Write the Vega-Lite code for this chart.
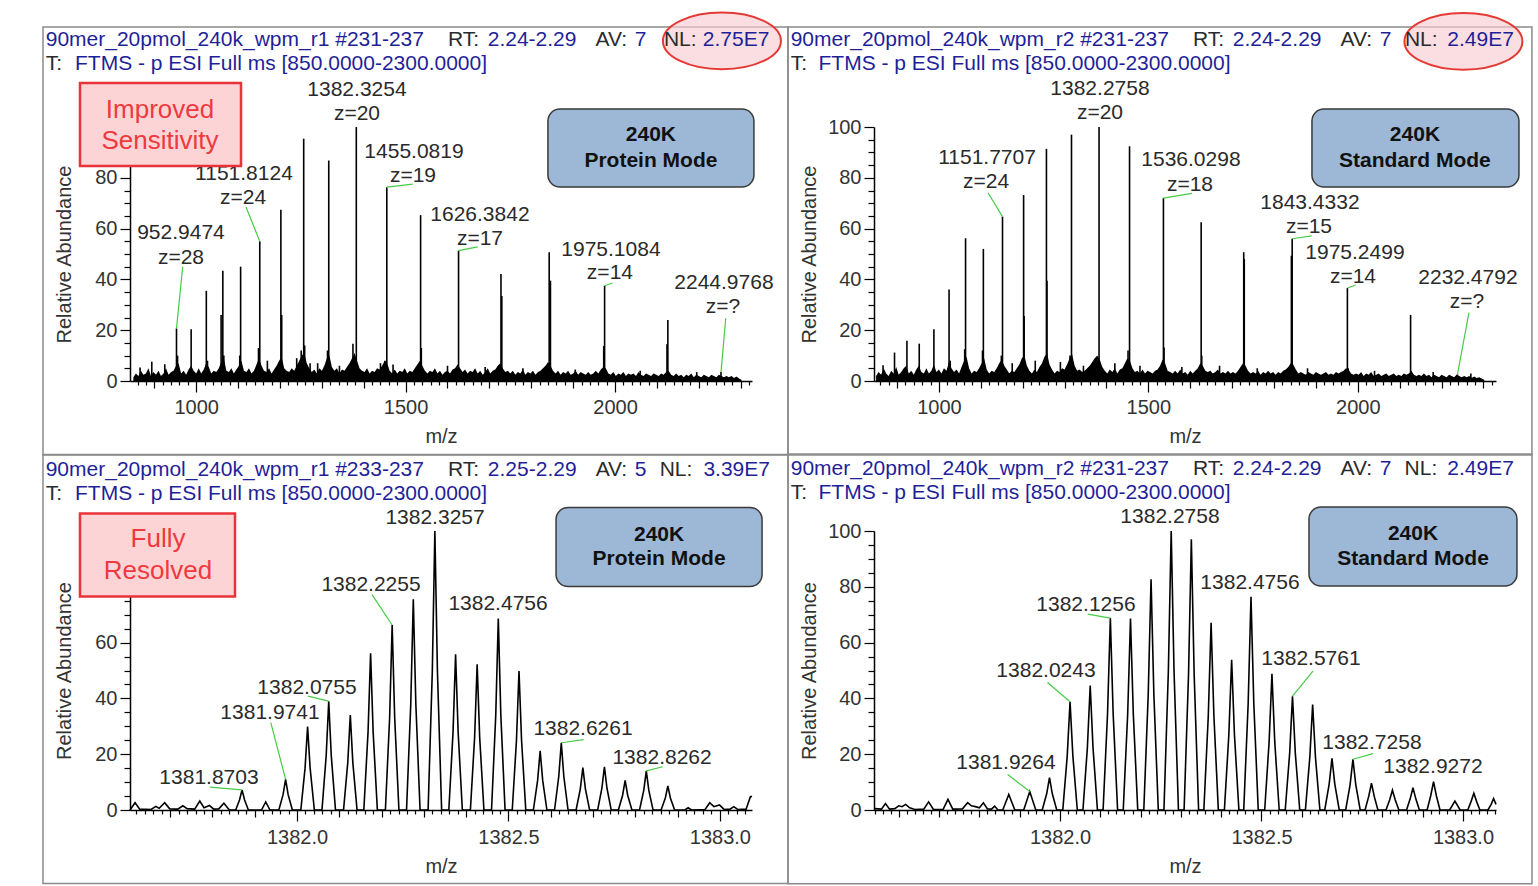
{
"$schema": "https://vega.github.io/schema/vega-lite/v6.json",
"autosize": {"type": "none"},
"padding": {"left": 130, "top": 127, "right": 1408, "bottom": 759},
"background": "white",
"config": {
  "font": "Liberation Sans",
  "view": {"stroke": null},
  "axis": {"domainColor": "#000", "domainWidth": 1.5, "tickColor": "#000", "tickWidth": 1.2, "labelColor": "#333", "labelFontSize": 20, "titleFontSize": 20, "titleFontWeight": "normal", "titleColor": "#333", "grid": false, "labelOverlap": false, "labelFlush": false, "labelBound": false}
},
"columns": 2,
"spacing": {"row": 150, "column": 122},
"bounds": "flush",
"concat": [
{
  "width": 622, "height": 254,
  "encoding": {
    "x": {"field": "m", "type": "quantitative", "title": "m/z",
      "scale": {"domain": [842, 2327], "nice": false, "zero": false},
      "axis": {"values": [860,880,900,920,940,960,980,1000,1020,1040,1060,1080,1100,1120,1140,1160,1180,1200,1220,1240,1260,1280,1300,1320,1340,1360,1380,1400,1420,1440,1460,1480,1500,1520,1540,1560,1580,1600,1620,1640,1660,1680,1700,1720,1740,1760,1780,1800,1820,1840,1860,1880,1900,1920,1940,1960,1980,2000,2020,2040,2060,2080,2100,2120,2140,2160,2180,2200,2220,2240,2260,2280,2300,2320],
        "labelExpr": "datum.value % 500 === 0 ? format(datum.value, 'd') : ''",
        "tickSize": {"condition": [{"test": "datum.value % 500 === 0", "value": 11}, {"test": "datum.value % 100 === 0", "value": 7}], "value": 4},
        "labelPadding": 5, "titlePadding": 9}},
    "y": {"field": "i", "type": "quantitative", "title": "Relative Abundance",
      "scale": {"domain": [0, 100], "nice": false, "zero": false},
      "axis": {"values": [0,5,10,15,20,25,30,35,40,45,50,55,60,65,70,75,80,85,90,95,100],
        "labelExpr": "datum.value % 20 === 0 && datum.value < 100 ? format(datum.value, 'd') : ''",
        "tickSize": {"condition": {"test": "datum.value % 20 === 0", "value": 10}, "value": 6},
        "labelPadding": 3, "titlePadding": 20}}
  },
  "layer": [
    {"data": {"values": [{"m": 634.3, "i": 139.4, "m2": 2412.8, "i2": -29.1}]},
     "mark": {"type": "rect", "fill": null, "stroke": "#8a8a8a", "strokeWidth": 1.5},
     "encoding": {"x2": {"field": "m2"}, "y2": {"field": "i2"}}},
    {"data": {"values": [
{"m":850,"i":1.5},{"m":856,"i":3},{"m":862,"i":2},{"m":868,"i":4},{"m":874,"i":2.5},{"m":880,"i":3},{"m":886,"i":5},{"m":892,"i":2},{"m":898,"i":3.5},{"m":904,"i":2.5},
{"m":910,"i":4},{"m":916,"i":2},{"m":922,"i":3},{"m":928,"i":5},{"m":934,"i":2.5},{"m":940,"i":3.5},{"m":946,"i":4},{"m":952,"i":6},{"m":958,"i":7},{"m":964,"i":3},
{"m":970,"i":4},{"m":976,"i":2.5},{"m":982,"i":4.5},{"m":988,"i":6},{"m":994,"i":4},{"m":1000,"i":3},{"m":1006,"i":5},{"m":1012,"i":3},{"m":1018,"i":4.5},{"m":1024,"i":7},
{"m":1030,"i":5.5},{"m":1036,"i":3},{"m":1042,"i":4},{"m":1048,"i":3.5},{"m":1054,"i":5},{"m":1060,"i":7.5},{"m":1066,"i":9},{"m":1072,"i":4},{"m":1078,"i":3.5},{"m":1084,"i":5},
{"m":1090,"i":3},{"m":1096,"i":4.5},{"m":1102,"i":6},{"m":1108,"i":8},{"m":1114,"i":4},{"m":1120,"i":3.5},{"m":1126,"i":5},{"m":1132,"i":3},{"m":1138,"i":4},{"m":1144,"i":6.5},
{"m":1150,"i":9},{"m":1156,"i":6},{"m":1162,"i":4},{"m":1168,"i":3.5},{"m":1174,"i":5},{"m":1180,"i":3},{"m":1186,"i":4.5},{"m":1192,"i":6},{"m":1198,"i":8},{"m":1204,"i":9.5},
{"m":1210,"i":5},{"m":1216,"i":4},{"m":1222,"i":3.5},{"m":1228,"i":5},{"m":1234,"i":4},{"m":1240,"i":6},{"m":1246,"i":8},{"m":1252,"i":10},{"m":1258,"i":11},{"m":1264,"i":7},
{"m":1270,"i":5},{"m":1276,"i":3.5},{"m":1282,"i":4.5},{"m":1288,"i":3},{"m":1294,"i":5},{"m":1300,"i":4},{"m":1306,"i":6},{"m":1312,"i":9},{"m":1318,"i":10},{"m":1324,"i":5.5},
{"m":1330,"i":4},{"m":1336,"i":5},{"m":1342,"i":3},{"m":1348,"i":4.5},{"m":1354,"i":4},{"m":1360,"i":5.5},{"m":1366,"i":7},{"m":1372,"i":9},{"m":1378,"i":11},{"m":1384,"i":8},
{"m":1390,"i":5},{"m":1396,"i":4},{"m":1402,"i":3.5},{"m":1408,"i":5},{"m":1414,"i":3},{"m":1420,"i":4},{"m":1426,"i":3.5},{"m":1432,"i":5},{"m":1438,"i":4.5},{"m":1444,"i":6},
{"m":1450,"i":8},{"m":1456,"i":7},{"m":1462,"i":4},{"m":1468,"i":3},{"m":1474,"i":4.5},{"m":1480,"i":3},{"m":1486,"i":4},{"m":1492,"i":3.5},{"m":1498,"i":5},{"m":1504,"i":3},
{"m":1510,"i":4},{"m":1516,"i":3.5},{"m":1522,"i":5},{"m":1528,"i":6.5},{"m":1534,"i":8},{"m":1540,"i":6},{"m":1546,"i":4},{"m":1552,"i":3},{"m":1558,"i":4},{"m":1564,"i":3.5},
{"m":1570,"i":5},{"m":1576,"i":3},{"m":1582,"i":4},{"m":1588,"i":2.5},{"m":1594,"i":3.5},{"m":1600,"i":4},{"m":1606,"i":3},{"m":1612,"i":4.5},{"m":1618,"i":5},{"m":1624,"i":6.5},
{"m":1630,"i":5},{"m":1636,"i":3.5},{"m":1642,"i":4.5},{"m":1648,"i":3},{"m":1654,"i":4},{"m":1660,"i":3.5},{"m":1666,"i":5},{"m":1672,"i":3},{"m":1678,"i":4},{"m":1684,"i":2.5},
{"m":1690,"i":3.5},{"m":1696,"i":5},{"m":1702,"i":3},{"m":1708,"i":4},{"m":1714,"i":4.5},{"m":1720,"i":6},{"m":1726,"i":7},{"m":1732,"i":5},{"m":1738,"i":3.5},{"m":1744,"i":4},
{"m":1750,"i":3},{"m":1756,"i":4},{"m":1762,"i":2.5},{"m":1768,"i":3.5},{"m":1774,"i":3},{"m":1780,"i":4.5},{"m":1786,"i":2.5},{"m":1792,"i":3.5},{"m":1798,"i":3},{"m":1804,"i":4},
{"m":1810,"i":2.5},{"m":1816,"i":3.5},{"m":1822,"i":4},{"m":1828,"i":5},{"m":1834,"i":6},{"m":1840,"i":7.5},{"m":1846,"i":6},{"m":1852,"i":4},{"m":1858,"i":3},{"m":1864,"i":4},
{"m":1870,"i":2.5},{"m":1876,"i":3.5},{"m":1882,"i":3},{"m":1888,"i":4},{"m":1894,"i":2.5},{"m":1900,"i":3},{"m":1906,"i":4},{"m":1912,"i":2.5},{"m":1918,"i":3.5},{"m":1924,"i":3},
{"m":1930,"i":2.5},{"m":1936,"i":3.5},{"m":1942,"i":2.5},{"m":1948,"i":3},{"m":1954,"i":4},{"m":1960,"i":3},{"m":1966,"i":4.5},{"m":1972,"i":5.5},{"m":1978,"i":5},{"m":1984,"i":3},
{"m":1990,"i":2.5},{"m":1996,"i":3.5},{"m":2002,"i":2},{"m":2008,"i":3},{"m":2014,"i":2.5},{"m":2020,"i":3.5},{"m":2026,"i":2},{"m":2032,"i":3},{"m":2038,"i":2.5},{"m":2044,"i":3},
{"m":2050,"i":2},{"m":2056,"i":3.5},{"m":2062,"i":2.5},{"m":2068,"i":2},{"m":2074,"i":3},{"m":2080,"i":2.5},{"m":2086,"i":2},{"m":2092,"i":3},{"m":2098,"i":2.5},{"m":2104,"i":2},
{"m":2110,"i":3},{"m":2116,"i":2.5},{"m":2122,"i":3.5},{"m":2128,"i":4},{"m":2134,"i":2.5},{"m":2140,"i":2},{"m":2146,"i":3},{"m":2152,"i":2},{"m":2158,"i":2.5},{"m":2164,"i":1.5},
{"m":2170,"i":2.5},{"m":2176,"i":2},{"m":2182,"i":3},{"m":2188,"i":1.5},{"m":2194,"i":2.5},{"m":2200,"i":2},{"m":2206,"i":1.5},{"m":2212,"i":2.5},{"m":2218,"i":2},{"m":2224,"i":1.5},
{"m":2230,"i":2.5},{"m":2236,"i":2},{"m":2242,"i":1.5},{"m":2248,"i":2.5},{"m":2254,"i":2},{"m":2260,"i":1.5},{"m":2266,"i":2},{"m":2272,"i":1.5},{"m":2278,"i":2},{"m":2284,"i":1.2},
{"m":2290,"i":1.8},{"m":2296,"i":1},{"m":2302,"i":0.5}]},
     "mark": {"type": "area", "color": "black"}, "encoding": {}},
    {"data": {"values": [
{"m":866,"i":5.3},{"m":894,"i":7.6},{"m":925,"i":6.6},{"m":953,"i":20.7},{"m":955.5,"i":10},{"m":988,"i":20.4},{"m":1024.2,"i":35.5},{"m":1027,"i":8},{"m":1059.5,"i":26},{"m":1063.6,"i":43.4},{"m":1066,"i":10},{"m":1104,"i":10},{"m":1106.1,"i":45},{"m":1148.8,"i":13},{"m":1151.8,"i":55},{"m":1170,"i":8},{"m":1202.2,"i":67.4},{"m":1204.2,"i":26},{"m":1240,"i":9},{"m":1250.7,"i":12},{"m":1256.7,"i":95.4},{"m":1259,"i":14},{"m":1272,"i":7},{"m":1290,"i":7},{"m":1313.5,"i":12},{"m":1316.5,"i":86.8},{"m":1342,"i":6},{"m":1374.3,"i":14.7},{"m":1382.3,"i":100},{"m":1440,"i":7},{"m":1451,"i":8},{"m":1455.1,"i":76.3},{"m":1470,"i":6.5},{"m":1535.8,"i":65.3},{"m":1537.5,"i":13},{"m":1600,"i":6},{"m":1626.4,"i":51.3},{"m":1690,"i":5.5},{"m":1727.7,"i":42.1},{"m":1729.7,"i":33.5},{"m":1780,"i":5},{"m":1842.8,"i":50.7},{"m":1845.8,"i":39.5},{"m":1905,"i":4.5},{"m":1973,"i":13.8},{"m":1975.1,"i":37.5},{"m":2060,"i":4},{"m":2124,"i":14.5},{"m":2126.1,"i":24},{"m":2195,"i":3.5},{"m":2253,"i":3.5}]},
     "mark": {"type": "rule", "color": "black", "strokeWidth": 1.6}, "encoding": {"y2": {"datum": 0}}},
    {"data": {"values": [{"m":967.8,"i":45,"m2":953,"i2":20.7},{"m":1118.9,"i":68.5,"m2":1151.8,"i2":55},{"m":1455.1,"i":76.3,"m2":1517,"i2":77.5},{"m":1626.4,"i":51.3,"m2":1672,"i2":52.8},{"m":1975.1,"i":37.5,"m2":1994,"i2":38.6},{"m":2264.3,"i":24.7,"m2":2253,"i2":3.5}]},
     "mark": {"type": "rule", "color": "#44cc44", "strokeWidth": 1.2}, "encoding": {"x2": {"field": "m2"}, "y2": {"field": "i2"}}},
    {"data": {"values": [{"m":1383.9,"i":114.6,"t":"1382.3254"},{"m":1383.9,"i":105.1,"t":"z=20"},{"m":1114.1,"i":81.5,"t":"1151.8124"},{"m":1111.8,"i":72,"t":"z=24"},{"m":963.7,"i":58.3,"t":"952.9474"},{"m":963.7,"i":48.4,"t":"z=28"},{"m":1520,"i":90.2,"t":"1455.0819"},{"m":1517.6,"i":80.7,"t":"z=19"},{"m":1677.5,"i":65.4,"t":"1626.3842"},{"m":1677.5,"i":55.9,"t":"z=17"},{"m":1990.2,"i":51.6,"t":"1975.1084"},{"m":1987.8,"i":42.5,"t":"z=14"},{"m":2260,"i":38.6,"t":"2244.9768"},{"m":2257.6,"i":29.1,"t":"z=?"}]},
     "mark": {"type": "text", "fontSize": 21, "color": "#2a2a2a", "baseline": "middle"}, "encoding": {"text": {"field": "t"}}},
    {"data": {"values": [{"m": 2255.2, "i": 133.9}]},
     "mark": {"type": "point", "shape": "M-1,0 C-1,-0.265 -0.5523,-0.48 0,-0.48 C0.5523,-0.48 1,-0.265 1,0 C1,0.265 0.5523,0.48 0,0.48 C-0.5523,0.48 -1,0.265 -1,0 Z", "size": 13924, "filled": true, "fill": "#f8cdd1", "fillOpacity": 0.65, "stroke": "#e53935", "strokeWidth": 2, "opacity": 1}},
    {"data": {"values": [{"m":640.8,"i":134.25,"t":"90mer_20pmol_240k_wpm_r1 #231-237","k":"val"},{"m":1601.1,"i":134.25,"t":"RT:","k":"key"},{"m":1696.1,"i":134.25,"t":"2.24-2.29","k":"val"},{"m":1953.5,"i":134.25,"t":"AV:","k":"key"},{"m":2047,"i":134.25,"t":"7","k":"val"},{"m":2116.8,"i":134.25,"t":"NL:","k":"key"},{"m":2209.5,"i":134.25,"t":"2.75E7","k":"val"},{"m":640.8,"i":125,"t":"T:","k":"key"},{"m":710.7,"i":125,"t":"FTMS - p ESI Full ms [850.0000-2300.0000]","k":"val"}]},
     "mark": {"type": "text", "fontSize": 21, "align": "left", "baseline": "middle"},
     "encoding": {"text": {"field": "t"}, "color": {"field": "k", "type": "nominal", "scale": {"domain": ["key", "val"], "range": ["#2b2b2b", "#1f1f99"]}, "legend": null}}},
    {"data": {"values": [{"m": 722.6, "i": 117.3, "m2": 1107, "i2": 84.6}]},
     "mark": {"type": "rect", "fill": "#fcd4d6", "stroke": "#e8333a", "strokeWidth": 2.5},
     "encoding": {"x2": {"field": "m2"}, "y2": {"field": "i2"}}},
    {"data": {"values": [{"m": 913.6, "i": 106.7, "t": "Improved"}, {"m": 913.6, "i": 94.5, "t": "Sensitivity"}]},
     "mark": {"type": "text", "fontSize": 26, "color": "#ee3a3f", "baseline": "middle"}, "encoding": {"text": {"field": "t"}}},
    {"data": {"values": [{"m": 1839.8, "i": 107.1, "m2": 2331.6, "i2": 76.4}]},
     "mark": {"type": "rect", "fill": "#9db8d6", "stroke": "#3a3a3a", "strokeWidth": 1.5, "cornerRadius": 12},
     "encoding": {"x2": {"field": "m2"}, "y2": {"field": "i2"}}},
    {"data": {"values": [{"m": 2085.7, "i": 96.9, "t": "240K"}, {"m": 2085.7, "i": 86.6, "t": "Protein Mode"}]},
     "mark": {"type": "text", "fontSize": 21, "fontWeight": "bold", "color": "#111", "baseline": "middle"}, "encoding": {"text": {"field": "t"}}}
  ]
},
{
  "width": 622, "height": 254,
  "encoding": {
    "x": {"field": "m", "type": "quantitative", "title": "m/z",
      "scale": {"domain": [845, 2330], "nice": false, "zero": false},
      "axis": {"values": [860,880,900,920,940,960,980,1000,1020,1040,1060,1080,1100,1120,1140,1160,1180,1200,1220,1240,1260,1280,1300,1320,1340,1360,1380,1400,1420,1440,1460,1480,1500,1520,1540,1560,1580,1600,1620,1640,1660,1680,1700,1720,1740,1760,1780,1800,1820,1840,1860,1880,1900,1920,1940,1960,1980,2000,2020,2040,2060,2080,2100,2120,2140,2160,2180,2200,2220,2240,2260,2280,2300,2320],
        "labelExpr": "datum.value % 500 === 0 ? format(datum.value, 'd') : ''",
        "tickSize": {"condition": [{"test": "datum.value % 500 === 0", "value": 11}, {"test": "datum.value % 100 === 0", "value": 7}], "value": 4},
        "labelPadding": 5, "titlePadding": 9}},
    "y": {"field": "i", "type": "quantitative", "title": "Relative Abundance",
      "scale": {"domain": [0, 100], "nice": false, "zero": false},
      "axis": {"values": [0,5,10,15,20,25,30,35,40,45,50,55,60,65,70,75,80,85,90,95,100],
        "labelExpr": "datum.value % 20 === 0 ? format(datum.value, 'd') : ''",
        "tickSize": {"condition": {"test": "datum.value % 20 === 0", "value": 10}, "value": 6},
        "labelPadding": 3, "titlePadding": 8}}
  },
  "layer": [
    {"data": {"values": [{"m": 639.7, "i": 139.4, "m2": 2415.8, "i2": -29.1}]},
     "mark": {"type": "rect", "fill": null, "stroke": "#8a8a8a", "strokeWidth": 1.5},
     "encoding": {"x2": {"field": "m2"}, "y2": {"field": "i2"}}},
    {"data": {"values": [
{"m":850,"i":2},{"m":856,"i":3.5},{"m":862,"i":2.5},{"m":868,"i":5},{"m":874,"i":3},{"m":880,"i":2},{"m":886,"i":4},{"m":892,"i":3},{"m":898,"i":5.5},{"m":904,"i":2.5},
{"m":910,"i":3.5},{"m":916,"i":5},{"m":922,"i":6},{"m":928,"i":3},{"m":934,"i":4},{"m":940,"i":2.5},{"m":946,"i":4.5},{"m":952,"i":6},{"m":958,"i":3.5},{"m":964,"i":3},
{"m":970,"i":5},{"m":976,"i":3},{"m":982,"i":4},{"m":988,"i":6.5},{"m":994,"i":3.5},{"m":1000,"i":4.5},{"m":1006,"i":3},{"m":1012,"i":5},{"m":1018,"i":4},{"m":1024,"i":7.5},
{"m":1030,"i":5},{"m":1036,"i":3.5},{"m":1042,"i":4.5},{"m":1048,"i":3},{"m":1054,"i":5.5},{"m":1060,"i":8},{"m":1066,"i":9.5},{"m":1072,"i":5},{"m":1078,"i":3},{"m":1084,"i":4},
{"m":1090,"i":3.5},{"m":1096,"i":5},{"m":1102,"i":7},{"m":1108,"i":9},{"m":1114,"i":4.5},{"m":1120,"i":3},{"m":1126,"i":4},{"m":1132,"i":3.5},{"m":1138,"i":5},{"m":1144,"i":7},
{"m":1150,"i":8.5},{"m":1156,"i":6},{"m":1162,"i":4.5},{"m":1168,"i":3},{"m":1174,"i":4},{"m":1180,"i":3.5},{"m":1186,"i":5},{"m":1192,"i":6.5},{"m":1198,"i":9},{"m":1204,"i":10},
{"m":1210,"i":6},{"m":1216,"i":4},{"m":1222,"i":3},{"m":1228,"i":4.5},{"m":1234,"i":3.5},{"m":1240,"i":5.5},{"m":1246,"i":7},{"m":1252,"i":9.5},{"m":1258,"i":11},{"m":1264,"i":6.5},
{"m":1270,"i":4.5},{"m":1276,"i":3},{"m":1282,"i":4},{"m":1288,"i":3.5},{"m":1294,"i":5},{"m":1300,"i":4.5},{"m":1306,"i":6.5},{"m":1312,"i":9},{"m":1318,"i":10.5},{"m":1324,"i":6},
{"m":1330,"i":4},{"m":1336,"i":4.5},{"m":1342,"i":3.5},{"m":1348,"i":4},{"m":1354,"i":5},{"m":1360,"i":6},{"m":1366,"i":7.5},{"m":1372,"i":9},{"m":1378,"i":10},{"m":1384,"i":8.5},
{"m":1390,"i":5.5},{"m":1396,"i":4},{"m":1402,"i":3},{"m":1408,"i":4.5},{"m":1414,"i":3.5},{"m":1420,"i":5},{"m":1426,"i":3},{"m":1432,"i":4.5},{"m":1438,"i":5},{"m":1444,"i":7},
{"m":1450,"i":9},{"m":1456,"i":8},{"m":1462,"i":5},{"m":1468,"i":3.5},{"m":1474,"i":4},{"m":1480,"i":3},{"m":1486,"i":4.5},{"m":1492,"i":3},{"m":1498,"i":4},{"m":1504,"i":3.5},
{"m":1510,"i":3},{"m":1516,"i":4},{"m":1522,"i":4.5},{"m":1528,"i":6},{"m":1534,"i":8.5},{"m":1540,"i":7},{"m":1546,"i":4},{"m":1552,"i":3.5},{"m":1558,"i":3},{"m":1564,"i":4},
{"m":1570,"i":3},{"m":1576,"i":4.5},{"m":1582,"i":3},{"m":1588,"i":3.5},{"m":1594,"i":2.5},{"m":1600,"i":4},{"m":1606,"i":3},{"m":1612,"i":4},{"m":1618,"i":5},{"m":1624,"i":7},
{"m":1630,"i":6},{"m":1636,"i":4},{"m":1642,"i":3.5},{"m":1648,"i":4},{"m":1654,"i":3},{"m":1660,"i":3.5},{"m":1666,"i":4.5},{"m":1672,"i":3},{"m":1678,"i":3.5},{"m":1684,"i":3},
{"m":1690,"i":4},{"m":1696,"i":3},{"m":1702,"i":3.5},{"m":1708,"i":3},{"m":1714,"i":4},{"m":1720,"i":5.5},{"m":1726,"i":7},{"m":1732,"i":6},{"m":1738,"i":4},{"m":1744,"i":3},
{"m":1750,"i":3.5},{"m":1756,"i":3},{"m":1762,"i":4},{"m":1768,"i":2.5},{"m":1774,"i":3.5},{"m":1780,"i":3},{"m":1786,"i":4},{"m":1792,"i":3},{"m":1798,"i":3.5},{"m":1804,"i":2.5},
{"m":1810,"i":3.5},{"m":1816,"i":3},{"m":1822,"i":4},{"m":1828,"i":4.5},{"m":1834,"i":5.5},{"m":1840,"i":7},{"m":1846,"i":6.5},{"m":1852,"i":4.5},{"m":1858,"i":3},{"m":1864,"i":3.5},
{"m":1870,"i":3},{"m":1876,"i":2.5},{"m":1882,"i":3.5},{"m":1888,"i":3},{"m":1894,"i":2.5},{"m":1900,"i":3.5},{"m":1906,"i":3},{"m":1912,"i":2.5},{"m":1918,"i":3},{"m":1924,"i":3.5},
{"m":1930,"i":2.5},{"m":1936,"i":3},{"m":1942,"i":2.5},{"m":1948,"i":3.5},{"m":1954,"i":3},{"m":1960,"i":3.5},{"m":1966,"i":4},{"m":1972,"i":5},{"m":1978,"i":4.5},{"m":1984,"i":3},
{"m":1990,"i":2.5},{"m":1996,"i":3},{"m":2002,"i":2.5},{"m":2008,"i":3.5},{"m":2014,"i":2},{"m":2020,"i":3},{"m":2026,"i":2.5},{"m":2032,"i":3.5},{"m":2038,"i":2},{"m":2044,"i":2.5},
{"m":2050,"i":3},{"m":2056,"i":2},{"m":2062,"i":2.5},{"m":2068,"i":3},{"m":2074,"i":2},{"m":2080,"i":2.5},{"m":2086,"i":3},{"m":2092,"i":2},{"m":2098,"i":2.5},{"m":2104,"i":2},
{"m":2110,"i":3},{"m":2116,"i":2.5},{"m":2122,"i":3},{"m":2128,"i":4},{"m":2134,"i":2.5},{"m":2140,"i":2},{"m":2146,"i":2.5},{"m":2152,"i":2},{"m":2158,"i":3},{"m":2164,"i":2},
{"m":2170,"i":2.5},{"m":2176,"i":1.5},{"m":2182,"i":2.5},{"m":2188,"i":2},{"m":2194,"i":1.5},{"m":2200,"i":2.5},{"m":2206,"i":2},{"m":2212,"i":1.5},{"m":2218,"i":2.5},{"m":2224,"i":2},
{"m":2230,"i":1.5},{"m":2236,"i":2.5},{"m":2242,"i":2},{"m":2248,"i":1.5},{"m":2254,"i":2},{"m":2260,"i":1.5},{"m":2266,"i":2},{"m":2272,"i":1.2},{"m":2278,"i":1.8},{"m":2284,"i":1.2},
{"m":2290,"i":1.5},{"m":2296,"i":1},{"m":2302,"i":0.5}]},
     "mark": {"type": "area", "color": "black"}, "encoding": {}},
    {"data": {"values": [
{"m":866.6,"i":6.2},{"m":894,"i":11.2},{"m":923.6,"i":15.8},{"m":953,"i":14.7},{"m":988,"i":20.4},{"m":1024.2,"i":36},{"m":1027,"i":8},{"m":1061.5,"i":12.5},{"m":1063.6,"i":56.2},{"m":1104,"i":12},{"m":1106.1,"i":52},{"m":1149,"i":10},{"m":1151.8,"i":64.7},{"m":1175,"i":7},{"m":1202.2,"i":73.2},{"m":1203.5,"i":25.6},{"m":1230,"i":8},{"m":1256.7,"i":91.4},{"m":1258,"i":39.5},{"m":1290,"i":7.5},{"m":1313,"i":10},{"m":1316.5,"i":97},{"m":1345,"i":6},{"m":1379,"i":8},{"m":1382.3,"i":100},{"m":1420,"i":7},{"m":1451.5,"i":12},{"m":1455.1,"i":92.4},{"m":1480,"i":6},{"m":1536,"i":72},{"m":1537.5,"i":13.2},{"m":1580,"i":5.5},{"m":1626.1,"i":62.5},{"m":1627.5,"i":10},{"m":1670,"i":6},{"m":1727.7,"i":50.7},{"m":1729,"i":48},{"m":1760,"i":5},{"m":1841.5,"i":49.3},{"m":1843.4,"i":56},{"m":1880,"i":5},{"m":1975.2,"i":36.6},{"m":1977,"i":5},{"m":2040,"i":4},{"m":2126.1,"i":26},{"m":2180,"i":3.5},{"m":2238,"i":2.6},{"m":2270,"i":3}]},
     "mark": {"type": "rule", "color": "black", "strokeWidth": 1.6}, "encoding": {"y2": {"datum": 0}}},
    {"data": {"values": [{"m":1117.1,"i":74.1,"m2":1151.8,"i2":64.7},{"m":1536,"i":72,"m2":1604,"i2":73.9},{"m":1843.4,"i":56,"m2":1890,"i2":57.1},{"m":1975.2,"i":36.6,"m2":1995,"i2":37.8},{"m":2265.4,"i":26.9,"m2":2238,"i2":2.6}]},
     "mark": {"type": "rule", "color": "#44cc44", "strokeWidth": 1.2}, "encoding": {"x2": {"field": "m2"}, "y2": {"field": "i2"}}},
    {"data": {"values": [{"m":1384.5,"i":115,"t":"1382.2758"},{"m":1384.5,"i":105.5,"t":"z=20"},{"m":1114.8,"i":87.8,"t":"1151.7707"},{"m":1112.4,"i":78.3,"t":"z=24"},{"m":1601.7,"i":87,"t":"1536.0298"},{"m":1599.3,"i":77.2,"t":"z=18"},{"m":1885.8,"i":70.1,"t":"1843.4332"},{"m":1883.4,"i":60.6,"t":"z=15"},{"m":1993.2,"i":50.4,"t":"1975.2499"},{"m":1988.5,"i":40.9,"t":"z=14"},{"m":2263,"i":40.6,"t":"2232.4792"},{"m":2260.6,"i":31.1,"t":"z=?"}]},
     "mark": {"type": "text", "fontSize": 21, "color": "#2a2a2a", "baseline": "middle"}, "encoding": {"text": {"field": "t"}}},
    {"data": {"values": [{"m": 2252.2, "i": 133.7}]},
     "mark": {"type": "point", "shape": "M-1,0 C-1,-0.265 -0.5523,-0.48 0,-0.48 C0.5523,-0.48 1,-0.265 1,0 C1,0.265 0.5523,0.48 0,0.48 C-0.5523,0.48 -1,0.265 -1,0 Z", "size": 13924, "filled": true, "fill": "#f8cdd1", "fillOpacity": 0.65, "stroke": "#e53935", "strokeWidth": 2, "opacity": 1}},
    {"data": {"values": [{"m":646.1,"i":134.25,"t":"90mer_20pmol_240k_wpm_r2 #231-237","k":"val"},{"m":1606.5,"i":134.25,"t":"RT:","k":"key"},{"m":1701.5,"i":134.25,"t":"2.24-2.29","k":"val"},{"m":1958.9,"i":134.25,"t":"AV:","k":"key"},{"m":2052.4,"i":134.25,"t":"7","k":"val"},{"m":2112.6,"i":134.25,"t":"NL:","k":"key"},{"m":2213.8,"i":134.25,"t":"2.49E7","k":"val"},{"m":646.1,"i":125,"t":"T:","k":"key"},{"m":712.5,"i":125,"t":"FTMS - p ESI Full ms [850.0000-2300.0000]","k":"val"}]},
     "mark": {"type": "text", "fontSize": 21, "align": "left", "baseline": "middle"},
     "encoding": {"text": {"field": "t"}, "color": {"field": "k", "type": "nominal", "scale": {"domain": ["key", "val"], "range": ["#2b2b2b", "#1f1f99"]}, "legend": null}}},
    {"data": {"values": [{"m": 1890.6, "i": 107.1, "m2": 2384.8, "i2": 76.4}]},
     "mark": {"type": "rect", "fill": "#9db8d6", "stroke": "#3a3a3a", "strokeWidth": 1.5, "cornerRadius": 12},
     "encoding": {"x2": {"field": "m2"}, "y2": {"field": "i2"}}},
    {"data": {"values": [{"m": 2136.5, "i": 96.9, "t": "240K"}, {"m": 2136.5, "i": 86.6, "t": "Standard Mode"}]},
     "mark": {"type": "text", "fontSize": 21, "fontWeight": "bold", "color": "#111", "baseline": "middle"}, "encoding": {"text": {"field": "t"}}}
  ]
},
{
  "width": 622, "height": 279,
  "encoding": {
    "x": {"field": "m", "type": "quantitative", "title": "m/z",
      "scale": {"domain": [1381.605, 1383.076], "nice": false, "zero": false},
      "axis": {"values": [1381.62,1381.64,1381.66,1381.68,1381.7,1381.72,1381.74,1381.76,1381.78,1381.8,1381.82,1381.84,1381.86,1381.88,1381.9,1381.92,1381.94,1381.96,1381.98,1382,1382.02,1382.04,1382.06,1382.08,1382.1,1382.12,1382.14,1382.16,1382.18,1382.2,1382.22,1382.24,1382.26,1382.28,1382.3,1382.32,1382.34,1382.36,1382.38,1382.4,1382.42,1382.44,1382.46,1382.48,1382.5,1382.52,1382.54,1382.56,1382.58,1382.6,1382.62,1382.64,1382.66,1382.68,1382.7,1382.72,1382.74,1382.76,1382.78,1382.8,1382.82,1382.84,1382.86,1382.88,1382.9,1382.92,1382.94,1382.96,1382.98,1383,1383.02,1383.04,1383.06],
        "labelExpr": "abs(datum.value * 2 - round(datum.value * 2)) < 0.0001 ? format(datum.value, '.1f') : ''",
        "tickSize": {"condition": [{"test": "abs(datum.value * 2 - round(datum.value * 2)) < 0.0001", "value": 11}, {"test": "abs(datum.value * 10 - round(datum.value * 10)) < 0.0001", "value": 7}], "value": 4},
        "labelPadding": 6, "titlePadding": 9}},
    "y": {"field": "i", "type": "quantitative", "title": "Relative Abundance",
      "scale": {"domain": [0, 100], "nice": false, "zero": false},
      "axis": {"values": [0,5,10,15,20,25,30,35,40,45,50,55,60,65,70,75,80,85,90,95,100],
        "labelExpr": "datum.value % 20 === 0 && datum.value < 80 ? format(datum.value, 'd') : ''",
        "tickSize": {"condition": {"test": "datum.value % 20 === 0", "value": 10}, "value": 6},
        "labelPadding": 3, "titlePadding": 20}}
  },
  "layer": [
    {"data": {"values": [{"m": 1381.3992, "i": 127.4, "m2": 1383.1613, "i2": -26.3}]},
     "mark": {"type": "rect", "fill": null, "stroke": "#8a8a8a", "strokeWidth": 1.5},
     "encoding": {"x2": {"field": "m2"}, "y2": {"field": "i2"}}},
    {"data": {"values": [
{"m":1381.605,"i":0},{"m":1381.617,"i":2.6},{"m":1381.628,"i":0.3},{"m":1381.655,"i":0.2},{"m":1381.666,"i":1.3},{"m":1381.674,"i":0.6},{"m":1381.687,"i":2.6},{"m":1381.699,"i":0.4},{"m":1381.718,"i":0.3},{"m":1381.73,"i":1.5},{"m":1381.74,"i":0.5},{"m":1381.758,"i":0.3},{"m":1381.77,"i":3.2},{"m":1381.78,"i":0.8},{"m":1381.793,"i":1.6},{"m":1381.803,"i":0.3},{"m":1381.815,"i":0.4},{"m":1381.827,"i":2.4},{"m":1381.84,"i":0},
{"m":1381.855,"i":0},{"m":1381.864,"i":3.6},{"m":1381.87,"i":7.2},{"m":1381.876,"i":3.6},{"m":1381.885,"i":0},{"m":1381.916,"i":0},{"m":1381.926,"i":2.9},{"m":1381.936,"i":0},
{"m":1381.957,"i":0},{"m":1381.967,"i":5.5},{"m":1381.973,"i":11},{"m":1381.979,"i":5.5},{"m":1381.989,"i":0},
{"m":1382.009,"i":0},{"m":1382.019,"i":15},{"m":1382.025,"i":29.9},{"m":1382.031,"i":15},{"m":1382.041,"i":0},
{"m":1382.059,"i":0},{"m":1382.069,"i":19.5},{"m":1382.075,"i":39},{"m":1382.081,"i":19.5},{"m":1382.091,"i":0},
{"m":1382.11,"i":0},{"m":1382.12,"i":17},{"m":1382.126,"i":34},{"m":1382.132,"i":17},{"m":1382.142,"i":0},
{"m":1382.158,"i":0},{"m":1382.168,"i":28},{"m":1382.174,"i":56.2},{"m":1382.18,"i":28},{"m":1382.19,"i":0},
{"m":1382.209,"i":0},{"m":1382.219,"i":33},{"m":1382.225,"i":66.3},{"m":1382.231,"i":33},{"m":1382.241,"i":0},
{"m":1382.259,"i":0},{"m":1382.269,"i":38},{"m":1382.275,"i":75.5},{"m":1382.281,"i":38},{"m":1382.291,"i":0},
{"m":1382.31,"i":0},{"m":1382.32,"i":50},{"m":1382.326,"i":100},{"m":1382.332,"i":50},{"m":1382.342,"i":0},
{"m":1382.359,"i":0},{"m":1382.369,"i":28},{"m":1382.375,"i":55.8},{"m":1382.381,"i":28},{"m":1382.391,"i":0},
{"m":1382.41,"i":0},{"m":1382.42,"i":26},{"m":1382.426,"i":52.2},{"m":1382.432,"i":26},{"m":1382.442,"i":0},
{"m":1382.46,"i":0},{"m":1382.47,"i":34},{"m":1382.476,"i":68.6},{"m":1382.482,"i":34},{"m":1382.492,"i":0},
{"m":1382.509,"i":0},{"m":1382.519,"i":25},{"m":1382.525,"i":49.8},{"m":1382.531,"i":25},{"m":1382.541,"i":0},
{"m":1382.559,"i":0},{"m":1382.569,"i":10.6},{"m":1382.575,"i":21.2},{"m":1382.581,"i":10.6},{"m":1382.591,"i":0},
{"m":1382.609,"i":0},{"m":1382.619,"i":12},{"m":1382.625,"i":24.1},{"m":1382.631,"i":12},{"m":1382.641,"i":0},
{"m":1382.66,"i":0},{"m":1382.67,"i":7.6},{"m":1382.676,"i":15.2},{"m":1382.682,"i":7.6},{"m":1382.692,"i":0},
{"m":1382.711,"i":0},{"m":1382.721,"i":7.8},{"m":1382.727,"i":15.5},{"m":1382.733,"i":7.8},{"m":1382.743,"i":0},
{"m":1382.76,"i":0},{"m":1382.77,"i":5.3},{"m":1382.776,"i":10.6},{"m":1382.782,"i":5.3},{"m":1382.792,"i":0},
{"m":1382.81,"i":0},{"m":1382.82,"i":7},{"m":1382.826,"i":14},{"m":1382.832,"i":7},{"m":1382.842,"i":0},
{"m":1382.861,"i":0},{"m":1382.871,"i":4.3},{"m":1382.877,"i":8.6},{"m":1382.883,"i":4.3},{"m":1382.893,"i":0},
{"m":1382.917,"i":0},{"m":1382.925,"i":0.8},{"m":1382.933,"i":0},{"m":1382.965,"i":0.2},{"m":1382.976,"i":2.6},{"m":1382.986,"i":1.2},{"m":1382.999,"i":1.8},{"m":1383.01,"i":0.2},{"m":1383.024,"i":0.3},{"m":1383.033,"i":1.2},{"m":1383.042,"i":0.2},{"m":1383.062,"i":0.3},{"m":1383.072,"i":4.7},{"m":1383.076,"i":4.9}]},
     "mark": {"type": "line", "color": "black", "strokeWidth": 1.6}, "encoding": {}},
    {"data": {"values": [{"m":1382.1774,"i":77.2,"m2":1382.225,"i2":66.3},{"m":1382.026,"i":40.8,"m2":1382.075,"i2":39},{"m":1381.938,"i":31.3,"m2":1381.973,"i2":11},{"m":1381.794,"i":8.2,"m2":1381.87,"i2":7.2},{"m":1382.625,"i":24.1,"m2":1382.678,"i2":25.2},{"m":1382.826,"i":14,"m2":1382.865,"i2":15.5}]},
     "mark": {"type": "rule", "color": "#44cc44", "strokeWidth": 1.2}, "encoding": {"x2": {"field": "m2"}, "y2": {"field": "i2"}}},
    {"data": {"values": [{"m":1382.3264,"i":104.8,"t":"1382.3257"},{"m":1382.175,"i":80.5,"t":"1382.2255"},{"m":1382.4754,"i":74,"t":"1382.4756"},{"m":1382.0236,"i":43.9,"t":"1382.0755"},{"m":1381.9361,"i":34.6,"t":"1381.9741"},{"m":1381.7918,"i":11.6,"t":"1381.8703"},{"m":1382.6764,"i":28.9,"t":"1382.6261"},{"m":1382.8633,"i":18.8,"t":"1382.8262"}]},
     "mark": {"type": "text", "fontSize": 21, "color": "#2a2a2a", "baseline": "middle"}, "encoding": {"text": {"field": "t"}}},
    {"data": {"values": [{"m":1381.4056,"i":122,"t":"90mer_20pmol_240k_wpm_r1 #233-237","k":"val"},{"m":1382.3571,"i":122,"t":"RT:","k":"key"},{"m":1382.4513,"i":122,"t":"2.25-2.29","k":"val"},{"m":1382.7062,"i":122,"t":"AV:","k":"key"},{"m":1382.7989,"i":122,"t":"5","k":"val"},{"m":1382.8576,"i":122,"t":"NL:","k":"key"},{"m":1382.9611,"i":122,"t":"3.39E7","k":"val"},{"m":1381.4056,"i":113.4,"t":"T:","k":"key"},{"m":1381.475,"i":113.4,"t":"FTMS - p ESI Full ms [850.0000-2300.0000]","k":"val"}]},
     "mark": {"type": "text", "fontSize": 21, "align": "left", "baseline": "middle"},
     "encoding": {"text": {"field": "t"}, "color": {"field": "k", "type": "nominal", "scale": {"domain": ["key", "val"], "range": ["#2b2b2b", "#1f1f99"]}, "legend": null}}},
    {"data": {"values": [{"m": 1381.4867, "i": 106.3, "m2": 1381.8533, "i2": 76.5}]},
     "mark": {"type": "rect", "fill": "#fcd4d6", "stroke": "#e8333a", "strokeWidth": 2.5},
     "encoding": {"x2": {"field": "m2"}, "y2": {"field": "i2"}}},
    {"data": {"values": [{"m": 1381.6712, "i": 97, "t": "Fully"}, {"m": 1381.6712, "i": 85.5, "t": "Resolved"}]},
     "mark": {"type": "text", "fontSize": 26, "color": "#ee3a3f", "baseline": "middle"}, "encoding": {"text": {"field": "t"}}},
    {"data": {"values": [{"m": 1382.6126, "i": 108.4, "m2": 1383.0998, "i2": 80.1}]},
     "mark": {"type": "rect", "fill": "#9db8d6", "stroke": "#3a3a3a", "strokeWidth": 1.5, "cornerRadius": 12},
     "encoding": {"x2": {"field": "m2"}, "y2": {"field": "i2"}}},
    {"data": {"values": [{"m": 1382.8562, "i": 98.7, "t": "240K"}, {"m": 1382.8562, "i": 89.8, "t": "Protein Mode"}]},
     "mark": {"type": "text", "fontSize": 21, "fontWeight": "bold", "color": "#111", "baseline": "middle"}, "encoding": {"text": {"field": "t"}}}
  ]
},
{
  "width": 622, "height": 279,
  "encoding": {
    "x": {"field": "m", "type": "quantitative", "title": "m/z",
      "scale": {"domain": [1381.5385, 1383.082], "nice": false, "zero": false},
      "axis": {"values": [1381.54,1381.56,1381.58,1381.6,1381.62,1381.64,1381.66,1381.68,1381.7,1381.72,1381.74,1381.76,1381.78,1381.8,1381.82,1381.84,1381.86,1381.88,1381.9,1381.92,1381.94,1381.96,1381.98,1382,1382.02,1382.04,1382.06,1382.08,1382.1,1382.12,1382.14,1382.16,1382.18,1382.2,1382.22,1382.24,1382.26,1382.28,1382.3,1382.32,1382.34,1382.36,1382.38,1382.4,1382.42,1382.44,1382.46,1382.48,1382.5,1382.52,1382.54,1382.56,1382.58,1382.6,1382.62,1382.64,1382.66,1382.68,1382.7,1382.72,1382.74,1382.76,1382.78,1382.8,1382.82,1382.84,1382.86,1382.88,1382.9,1382.92,1382.94,1382.96,1382.98,1383,1383.02,1383.04,1383.06,1383.08],
        "labelExpr": "abs(datum.value * 2 - round(datum.value * 2)) < 0.0001 ? format(datum.value, '.1f') : ''",
        "tickSize": {"condition": [{"test": "abs(datum.value * 2 - round(datum.value * 2)) < 0.0001", "value": 11}, {"test": "abs(datum.value * 10 - round(datum.value * 10)) < 0.0001", "value": 7}], "value": 4},
        "labelPadding": 6, "titlePadding": 9}},
    "y": {"field": "i", "type": "quantitative", "title": "Relative Abundance",
      "scale": {"domain": [0, 100], "nice": false, "zero": false},
      "axis": {"values": [0,5,10,15,20,25,30,35,40,45,50,55,60,65,70,75,80,85,90,95,100],
        "labelExpr": "datum.value % 20 === 0 ? format(datum.value, 'd') : ''",
        "tickSize": {"condition": {"test": "datum.value % 20 === 0", "value": 10}, "value": 6},
        "labelPadding": 3, "titlePadding": 8}}
  },
  "layer": [
    {"data": {"values": [{"m": 1381.3251, "i": 127.6, "m2": 1383.1713, "i2": -26.4}]},
     "mark": {"type": "rect", "fill": null, "stroke": "#8a8a8a", "strokeWidth": 1.5},
     "encoding": {"x2": {"field": "m2"}, "y2": {"field": "i2"}}},
    {"data": {"values": [
{"m":1381.54,"i":0.5},{"m":1381.557,"i":0.3},{"m":1381.567,"i":2.3},{"m":1381.577,"i":0.3},{"m":1381.59,"i":0.5},{"m":1381.6,"i":1.5},{"m":1381.608,"i":1.2},{"m":1381.617,"i":2},{"m":1381.627,"i":0.8},{"m":1381.64,"i":0.2},{"m":1381.662,"i":0.3},{"m":1381.674,"i":2.9},{"m":1381.686,"i":0.2},{"m":1381.71,"i":0.2},{"m":1381.722,"i":3.8},{"m":1381.734,"i":0.3},{"m":1381.758,"i":0.4},{"m":1381.771,"i":2.6},{"m":1381.78,"i":1.5},{"m":1381.79,"i":1.2},{"m":1381.8,"i":0.8},{"m":1381.81,"i":2.6},{"m":1381.82,"i":0.4},{"m":1381.83,"i":0.3},{"m":1381.838,"i":1.4},{"m":1381.846,"i":0},
{"m":1381.858,"i":0},{"m":1381.873,"i":5.6},{"m":1381.888,"i":0},{"m":1381.91,"i":0},{"m":1381.925,"i":6.6},{"m":1381.94,"i":0},
{"m":1381.956,"i":0},{"m":1381.967,"i":5.8},{"m":1381.974,"i":11.6},{"m":1381.981,"i":5.8},{"m":1381.992,"i":0},
{"m":1382.007,"i":0},{"m":1382.018,"i":19.4},{"m":1382.025,"i":38.8},{"m":1382.032,"i":19.4},{"m":1382.043,"i":0},
{"m":1382.057,"i":0},{"m":1382.068,"i":22.3},{"m":1382.075,"i":44.6},{"m":1382.082,"i":22.3},{"m":1382.093,"i":0},
{"m":1382.107,"i":0},{"m":1382.118,"i":34.4},{"m":1382.125,"i":68.8},{"m":1382.132,"i":34.4},{"m":1382.143,"i":0},
{"m":1382.157,"i":0},{"m":1382.168,"i":34.3},{"m":1382.175,"i":68.6},{"m":1382.182,"i":34.3},{"m":1382.193,"i":0},
{"m":1382.208,"i":0},{"m":1382.219,"i":41.4},{"m":1382.226,"i":82.7},{"m":1382.233,"i":41.4},{"m":1382.244,"i":0},
{"m":1382.258,"i":0},{"m":1382.269,"i":50},{"m":1382.276,"i":100},{"m":1382.283,"i":50},{"m":1382.294,"i":0},
{"m":1382.308,"i":0},{"m":1382.319,"i":48.5},{"m":1382.326,"i":97},{"m":1382.333,"i":48.5},{"m":1382.344,"i":0},
{"m":1382.357,"i":0},{"m":1382.368,"i":33.6},{"m":1382.375,"i":67.1},{"m":1382.382,"i":33.6},{"m":1382.393,"i":0},
{"m":1382.408,"i":0},{"m":1382.419,"i":26.9},{"m":1382.426,"i":53.8},{"m":1382.433,"i":26.9},{"m":1382.444,"i":0},
{"m":1382.456,"i":0},{"m":1382.467,"i":38.2},{"m":1382.474,"i":76.4},{"m":1382.481,"i":38.2},{"m":1382.492,"i":0},
{"m":1382.508,"i":0},{"m":1382.519,"i":24.4},{"m":1382.526,"i":48.8},{"m":1382.533,"i":24.4},{"m":1382.544,"i":0},
{"m":1382.559,"i":0},{"m":1382.57,"i":20.4},{"m":1382.577,"i":40.8},{"m":1382.584,"i":20.4},{"m":1382.595,"i":0},
{"m":1382.609,"i":0},{"m":1382.62,"i":18.9},{"m":1382.627,"i":37.8},{"m":1382.634,"i":18.9},{"m":1382.645,"i":0},
{"m":1382.657,"i":0},{"m":1382.668,"i":9.3},{"m":1382.675,"i":18.5},{"m":1382.682,"i":9.3},{"m":1382.693,"i":0},
{"m":1382.709,"i":0},{"m":1382.72,"i":9.1},{"m":1382.727,"i":18.2},{"m":1382.734,"i":9.1},{"m":1382.745,"i":0},
{"m":1382.757,"i":0},{"m":1382.766,"i":4.8},{"m":1382.773,"i":9.6},{"m":1382.78,"i":4.8},{"m":1382.789,"i":0},
{"m":1382.809,"i":0},{"m":1382.818,"i":3.6},{"m":1382.825,"i":7.1},{"m":1382.832,"i":3.6},{"m":1382.841,"i":0},
{"m":1382.86,"i":0},{"m":1382.869,"i":4},{"m":1382.876,"i":8},{"m":1382.883,"i":4},{"m":1382.892,"i":0},
{"m":1382.911,"i":0},{"m":1382.92,"i":5.1},{"m":1382.927,"i":10.2},{"m":1382.934,"i":5.1},{"m":1382.943,"i":0},
{"m":1382.967,"i":0},{"m":1382.98,"i":3.2},{"m":1382.993,"i":0},
{"m":1383.012,"i":0},{"m":1383.02,"i":3},{"m":1383.027,"i":6},{"m":1383.034,"i":3},{"m":1383.042,"i":0},
{"m":1383.062,"i":0},{"m":1383.07,"i":2},{"m":1383.076,"i":4.1},{"m":1383.082,"i":2}]},
     "mark": {"type": "line", "color": "black", "strokeWidth": 1.6}, "encoding": {}},
    {"data": {"values": [{"m":1382.0688,"i":70.2,"m2":1382.125,"i2":68.8},{"m":1382.6278,"i":49.8,"m2":1382.577,"i2":40.8},{"m":1381.969,"i":45.7,"m2":1382.025,"i2":38.8},{"m":1381.8703,"i":12.7,"m2":1381.925,"i2":6.6},{"m":1382.727,"i":18.2,"m2":1382.7767,"i2":20.2}]},
     "mark": {"type": "rule", "color": "#44cc44", "strokeWidth": 1.2}, "encoding": {"x2": {"field": "m2"}, "y2": {"field": "i2"}}},
    {"data": {"values": [{"m":1382.273,"i":105,"t":"1382.2758"},{"m":1382.0645,"i":73.4,"t":"1382.1256"},{"m":1382.4715,"i":81.3,"t":"1382.4756"},{"m":1382.6229,"i":54,"t":"1382.5761"},{"m":1381.9653,"i":49.7,"t":"1382.0243"},{"m":1381.866,"i":16.7,"t":"1381.9264"},{"m":1382.7742,"i":23.9,"t":"1382.7258"},{"m":1382.9256,"i":15.3,"t":"1382.9272"}]},
     "mark": {"type": "text", "fontSize": 21, "color": "#2a2a2a", "baseline": "middle"}, "encoding": {"text": {"field": "t"}}},
    {"data": {"values": [{"m":1381.3318,"i":122.3,"t":"90mer_20pmol_240k_wpm_r2 #231-237","k":"val"},{"m":1382.3301,"i":122.3,"t":"RT:","k":"key"},{"m":1382.4288,"i":122.3,"t":"2.24-2.29","k":"val"},{"m":1382.6963,"i":122.3,"t":"AV:","k":"key"},{"m":1382.7936,"i":122.3,"t":"7","k":"val"},{"m":1382.8551,"i":122.3,"t":"NL:","k":"key"},{"m":1382.9613,"i":122.3,"t":"2.49E7","k":"val"},{"m":1381.3318,"i":113.6,"t":"T:","k":"key"},{"m":1381.4008,"i":113.6,"t":"FTMS - p ESI Full ms [850.0000-2300.0000]","k":"val"}]},
     "mark": {"type": "text", "fontSize": 21, "align": "left", "baseline": "middle"},
     "encoding": {"text": {"field": "t"}, "color": {"field": "k", "type": "nominal", "scale": {"domain": ["key", "val"], "range": ["#2b2b2b", "#1f1f99"]}, "legend": null}}},
    {"data": {"values": [{"m": 1382.6179, "i": 108.6, "m2": 1383.134, "i2": 80.3}]},
     "mark": {"type": "rect", "fill": "#9db8d6", "stroke": "#3a3a3a", "strokeWidth": 1.5, "cornerRadius": 12},
     "encoding": {"x2": {"field": "m2"}, "y2": {"field": "i2"}}},
    {"data": {"values": [{"m": 1382.876, "i": 98.9, "t": "240K"}, {"m": 1382.876, "i": 90, "t": "Standard Mode"}]},
     "mark": {"type": "text", "fontSize": 21, "fontWeight": "bold", "color": "#111", "baseline": "middle"}, "encoding": {"text": {"field": "t"}}}
  ]
}
]
}
